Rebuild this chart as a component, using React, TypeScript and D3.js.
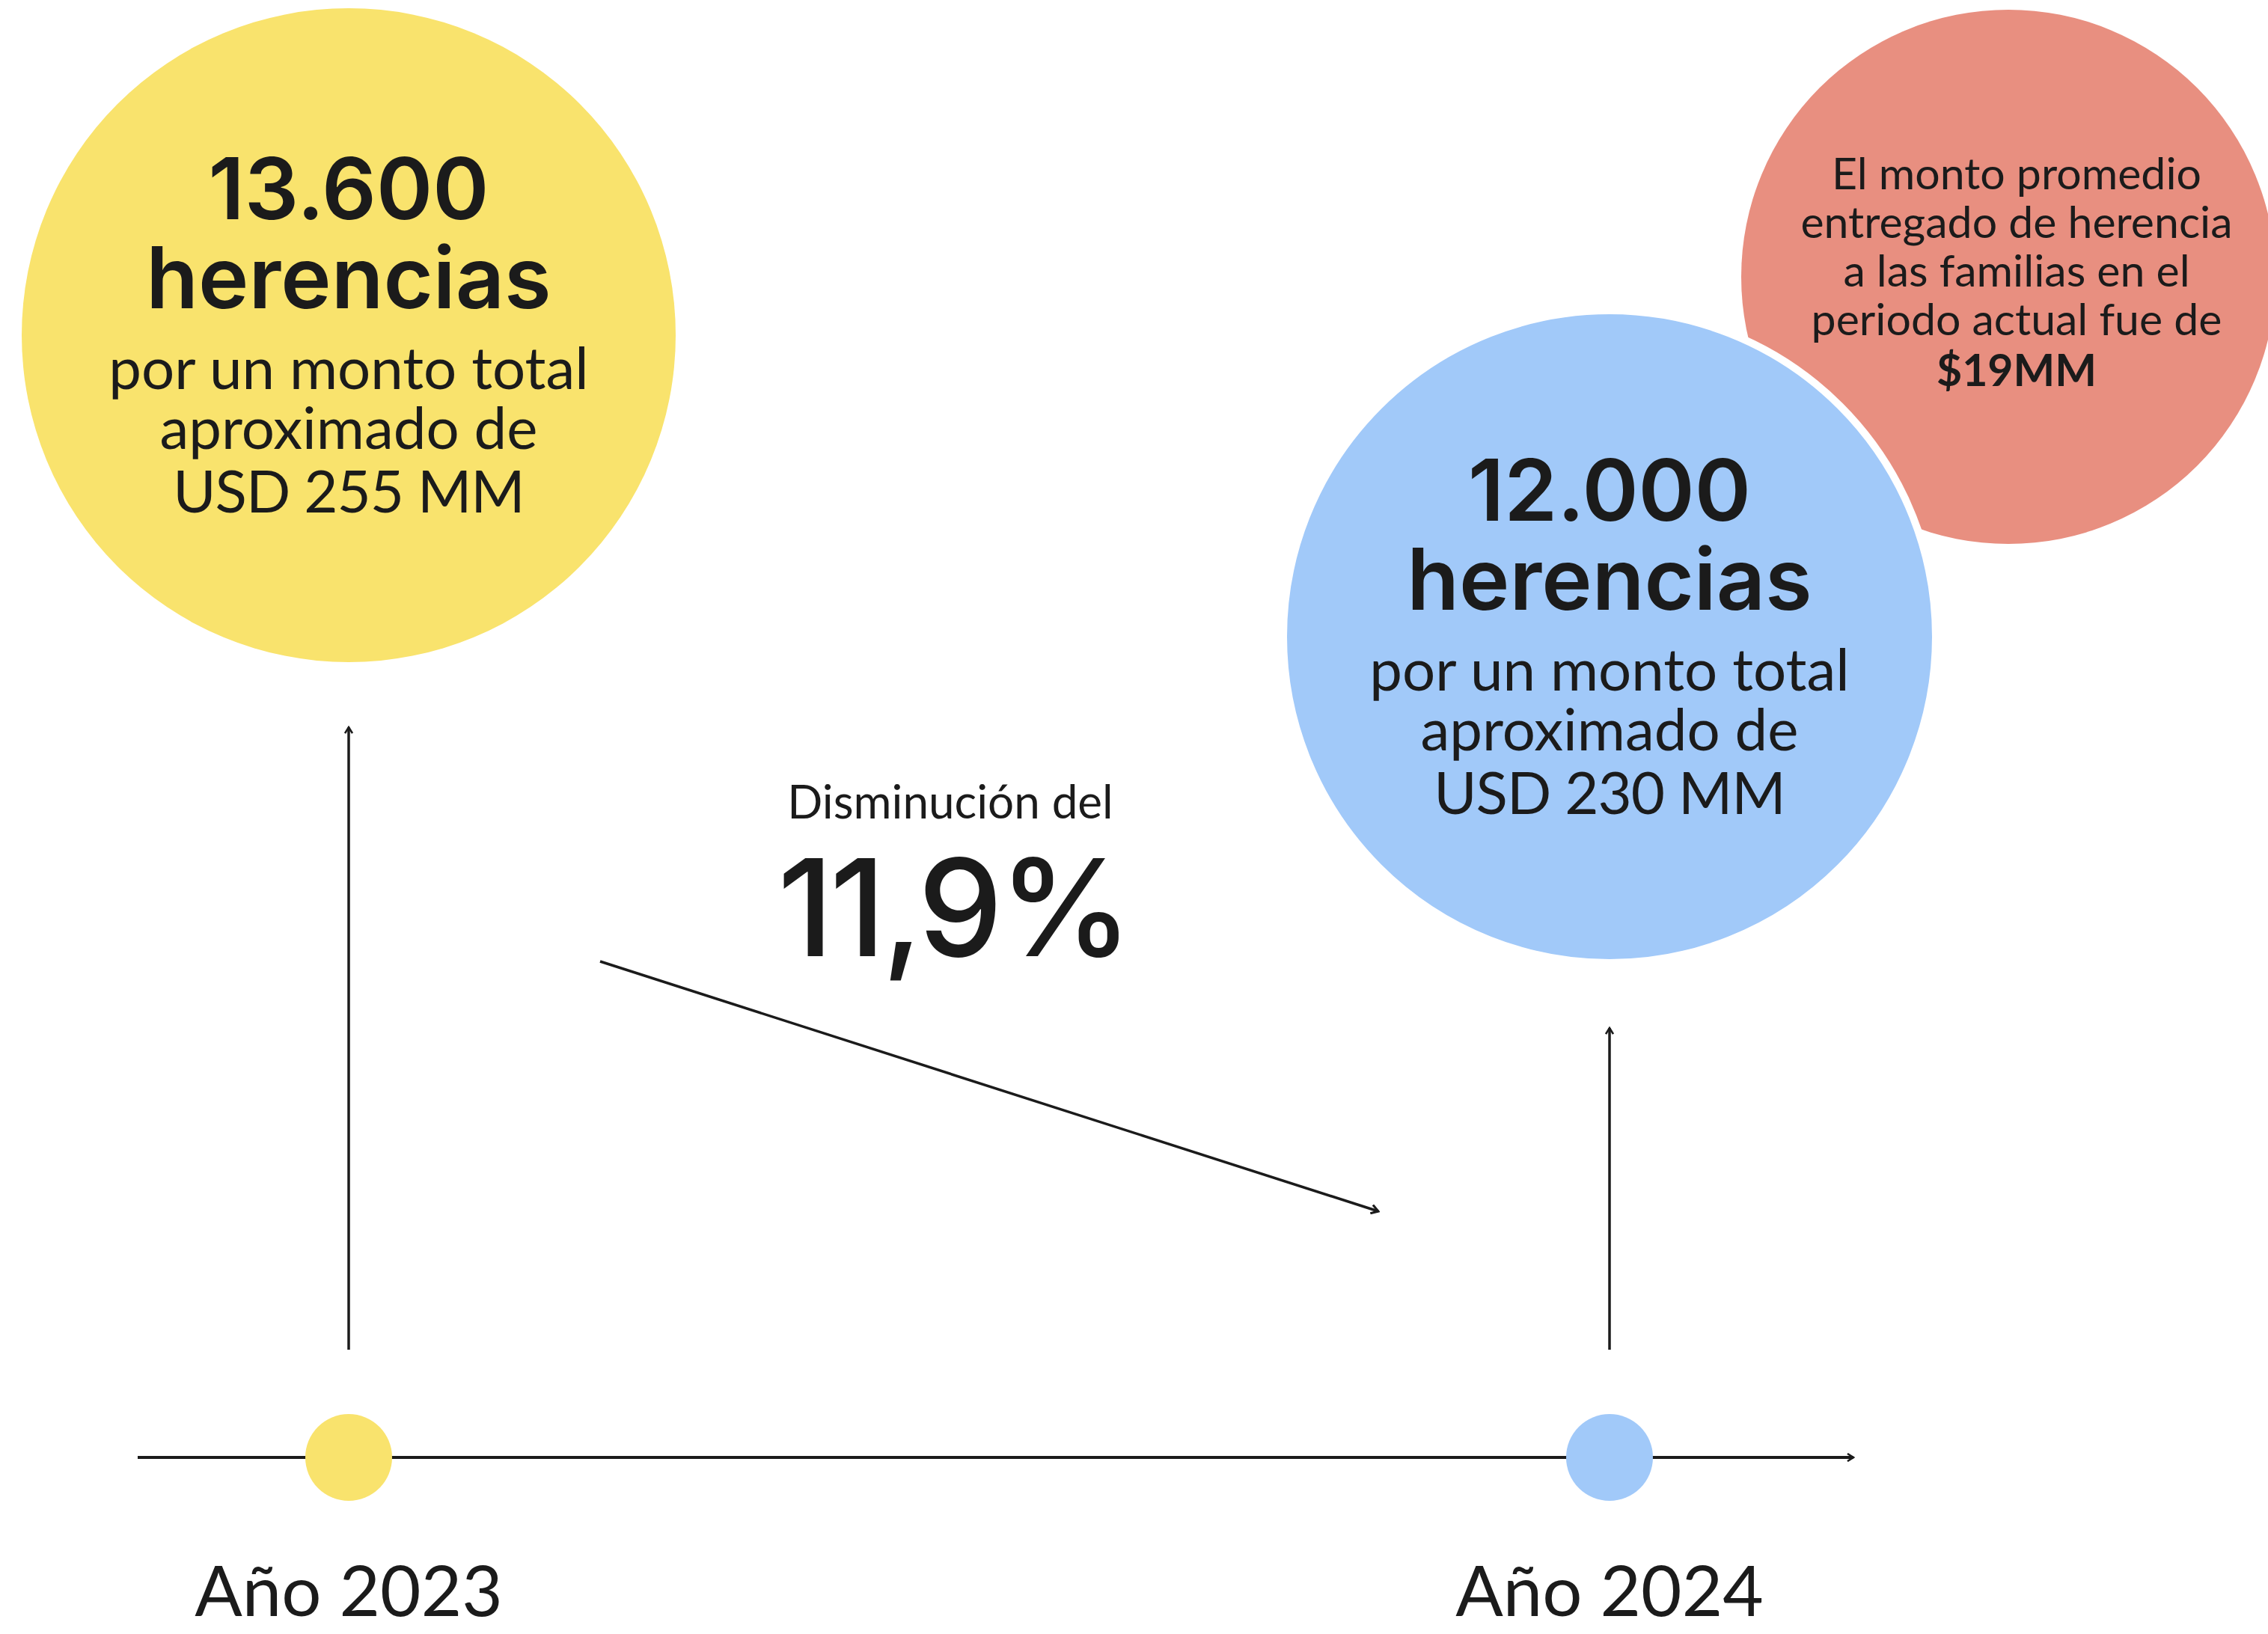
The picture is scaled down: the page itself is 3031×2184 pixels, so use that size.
import React from "react";
import * as d3 from "d3";

const years = ["Año 2023", "Año 2024"];
const herenciasCount = ["13.600", "12.000"];
const montoUSD = ["USD 255 MM", "USD 230 MM"];
const bodyLines = ["por un monto total", "aproximado de"];
const changeLabel = "Disminución del";
const changeValue = "11,9%";
const avgLines = ["El monto promedio", "entregado de herencia", "a las familias en el", "periodo actual fue de"];
const avgValue = "$19MM";

const W = 3031;
const H = 2184;
const INK = "#1b1b1b";
const YELLOW = "#F9E36D";
const BLUE = "#A1C9F9";
const RED = "#E88F80";
const circleColors = [YELLOW, BLUE];

export default function App() {
  const x = d3.scalePoint<string>().domain(years).range([466, 2151]);
  const circleY = [448, 851];
  const circleR = [437, 436];
  const axisY = 1948;
  const headFont = "Inter, 'DejaVu Sans', sans-serif";
  const bodyFont = "Lato, 'Open Sans', sans-serif";

  const diag = d3.line()([[802, 1285], [1842, 1619]]);

  return (
    <svg width={W} height={H} viewBox={`0 0 ${W} ${H}`} style={{ position: "absolute", left: 0, top: 0, background: "#fff" }}>
      <defs>
        <marker id="arr" viewBox="0 0 12 12" refX="10" refY="6" markerWidth="12" markerHeight="12" markerUnits="userSpaceOnUse" orient="auto">
          <path d="M2,1 L10,6 L2,11" fill="none" stroke={INK} strokeWidth={2.6} />
        </marker>
        <marker id="arr2" viewBox="0 0 12 12" refX="10" refY="6" markerWidth="14" markerHeight="14" markerUnits="userSpaceOnUse" orient="auto">
          <path d="M2,1 L10,6 L2,11" fill="none" stroke={INK} strokeWidth={2.6} />
        </marker>
      </defs>
      <rect width={W} height={H} fill="#fff" />

      {/* red circle (avg) */}
      <circle cx={2684} cy={370} r={357} fill={RED} />
      <g fontFamily={bodyFont} fill={INK} textAnchor="middle">
        {avgLines.map((t, i) => (
          <text key={t} x={2695} y={253 + i * 65} fontSize={59}>{t}</text>
        ))}
        <text x={2695} y={516} fontSize={59} fontWeight={700}>{avgValue}</text>
      </g>

      {/* big circles */}
      {years.map((yr, i) => {
        const cx = x(yr)!;
        const cy = circleY[i];
        return (
          <g key={yr}>
            <circle cx={cx} cy={cy} r={circleR[i]} fill={circleColors[i]} stroke={i === 1 ? "#fff" : "none"} strokeWidth={i === 1 ? 10 : 0} />
            <g textAnchor="middle" fill={INK}>
              <text x={cx} y={cy - 155} fontFamily={headFont} fontWeight={600} fontSize={114}>{herenciasCount[i]}</text>
              <text x={cx} y={cy - 36} fontFamily={headFont} fontWeight={600} fontSize={114}>herencias</text>
              <text x={cx} y={cy + 72} fontFamily={bodyFont} fontSize={78}>{bodyLines[0]}</text>
              <text x={cx} y={cy + 152} fontFamily={bodyFont} fontSize={78}>{bodyLines[1]}</text>
              <text x={cx} y={cy + 237} fontFamily={bodyFont} fontSize={78} letterSpacing={-1}>{montoUSD[i]}</text>
            </g>
          </g>
        );
      })}

      {/* vertical arrows */}
      <line x1={x(years[0])} x2={x(years[0])} y1={1804} y2={972} stroke={INK} strokeWidth={3.5} markerEnd="url(#arr)" />
      <line x1={x(years[1])} x2={x(years[1])} y1={1804} y2={1374} stroke={INK} strokeWidth={3.5} markerEnd="url(#arr)" />

      {/* diagonal arrow */}
      <path d={diag ?? ""} stroke={INK} strokeWidth={3.5} fill="none" markerEnd="url(#arr2)" />

      {/* change text */}
      <g textAnchor="middle" fill={INK}>
        <text x={1270} y={1094} fontFamily={bodyFont} fontSize={62}>{changeLabel}</text>
        <text x={1274} y={1278} fontFamily={headFont} fontWeight={500} fontSize={180} letterSpacing={-5}>{changeValue}</text>
      </g>

      {/* timeline */}
      <line x1={184} x2={2477} y1={axisY} y2={axisY} stroke={INK} strokeWidth={4} markerEnd="url(#arr)" />
      {years.map((yr, i) => (
        <g key={"dot" + yr}>
          <circle cx={x(yr)} cy={axisY} r={58} fill={circleColors[i]} />
          <text x={x(yr)} y={2160} textAnchor="middle" fontFamily={bodyFont} fontSize={94} fill={INK}>{yr}</text>
        </g>
      ))}
    </svg>
  );
}
